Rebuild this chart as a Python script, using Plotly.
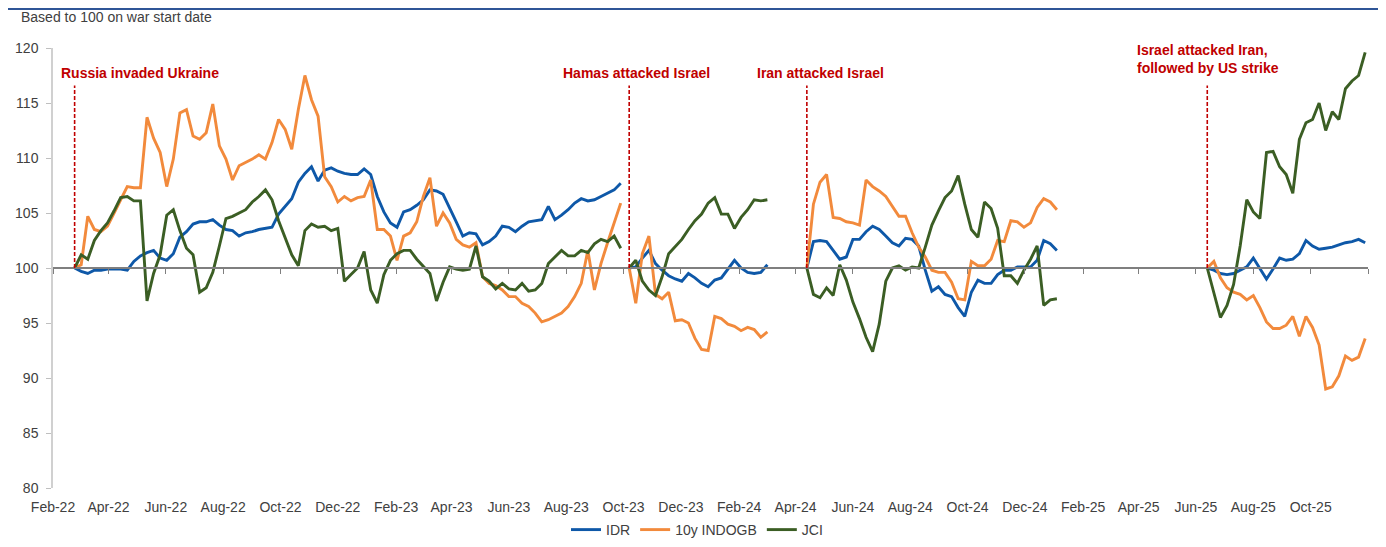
import pandas as pd
import plotly.graph_objects as go

# ---------------- data (weekly readings, index based to 100 at each war start) ----------------
EVENT_DATES = ["2022-02-24", "2023-10-07", "2024-04-13", "2025-06-13"]
EVENT_LABELS = ["Russia invaded Ukraine", "Hamas attacked Israel", "Iran attacked Israel",
                "Israel attacked Iran,<br>followed by US strike"]
SERIES_NAMES = ["IDR", "10y INDOGB", "JCI"]

IDR_1 = [100, 99.7, 99.5, 99.8, 99.8, 99.9, 99.9, 99.9, 99.8, 100.6, 101.1, 101.4, 101.6, 100.9, 100.7,
         101.3, 102.8, 103.3, 104.0, 104.2, 104.2, 104.4, 103.9, 103.5, 103.4, 102.9, 103.2, 103.3, 103.5,
         103.6, 103.7, 104.9, 105.6, 106.3, 107.8, 108.6, 109.2, 107.9, 108.9, 109.1, 108.8,
         108.6, 108.5, 108.5, 109.0, 108.5, 106.5, 105.1, 104.1, 103.7, 105.1, 105.3, 105.7, 106.2, 107.1,
         107.0, 106.7, 105.5, 104.2, 102.9, 103.2, 103.1, 102.1, 102.4, 102.9, 103.8, 103.7, 103.3, 103.8,
         104.2, 104.3, 104.4, 105.6, 104.4, 104.8, 105.3, 105.9, 106.3, 106.1, 106.2, 106.5, 106.8, 107.1,
         107.7]
GB_1 = [100, 100.3, 104.7, 103.5, 103.3, 103.8, 105.0, 106.2, 107.4, 107.3, 107.3, 113.7, 111.8, 110.5,
        107.4, 109.9, 114.1, 114.4, 112.0, 111.7, 112.3, 114.9, 111.1, 109.9, 108.0, 109.3, 109.6, 109.9,
        110.3, 109.9, 111.4, 113.5, 112.6, 110.8, 114.4, 117.5, 115.3, 113.8, 108.3, 107.4, 106.0,
        106.5, 106.1, 106.4, 106.5, 108.0, 103.5, 103.5, 102.9, 100.7, 102.9, 103.2, 104.2, 106.5, 108.2,
        103.8, 105.0, 104.1, 102.6, 102.1, 101.9, 102.3, 99.2, 98.6, 98.4, 98.0, 97.4, 97.4, 96.8, 96.5,
        95.9, 95.1, 95.3, 95.6, 95.9, 96.5, 97.4, 98.6, 101.6, 98.0, 100.4, 102.3, 104.1, 105.9]
JCI_1 = [100, 101.2, 100.8, 102.5, 103.4, 104.1, 105.2, 106.4, 106.5, 106.1, 106.1, 97.0, 99.5, 101.2,
         104.8, 105.3, 103.4, 101.8, 101.2, 97.8, 98.2, 99.6, 102.0, 104.5, 104.7, 105.0, 105.3, 106.0,
         106.5, 107.1, 106.2, 104.3, 102.8, 101.2, 100.2, 103.4, 104.0, 103.7, 103.8, 103.4, 103.6,
         98.8, 99.4, 100.0, 101.5, 98.0, 96.8, 99.4, 100.7, 101.3, 101.6, 101.6, 100.8, 100.1, 99.5, 97.0,
         98.7, 100.1, 99.9, 99.8, 99.9, 102.0, 99.2, 98.8, 98.1, 98.6, 98.1, 98.0, 98.6, 97.9, 98.0, 98.6,
         100.4, 101.0, 101.6, 101.1, 101.1, 101.6, 101.4, 102.2, 102.6, 102.4, 102.9, 101.8]

IDR_2 = [100, 100.1, 100.9, 101.6, 100.4, 99.8, 99.3, 99.0, 98.8, 99.5, 99.1, 98.6, 98.3, 98.9, 99.1,
         99.9, 100.7, 100.0, 99.6, 99.5, 99.6, 100.3]
GB_2 = [100, 96.8, 101.3, 102.9, 97.6, 97.2, 97.8, 95.2, 95.3, 95.0, 93.6, 92.6, 92.5, 95.6, 95.4, 94.9,
        94.7, 94.3, 94.6, 94.4, 93.7, 94.2]
JCI_2 = [100, 100.7, 98.8, 98.0, 97.5, 99.2, 101.3, 102.0, 102.6, 103.5, 104.3, 104.9, 105.9, 106.4,
         104.9, 104.9, 103.6, 104.6, 105.3, 106.2, 106.1, 106.2]

IDR_3 = [100, 102.4, 102.5, 102.4, 101.6, 100.8, 101.0, 102.6, 102.6, 103.3, 103.8, 103.5, 102.9, 102.3,
         102.0, 102.7, 102.6, 102.0, 99.8, 97.9, 98.3, 97.6, 97.4, 96.4, 95.6, 97.8, 98.9, 98.6, 98.6,
         99.4, 99.8, 99.8, 100.1, 100.1, 100.1, 100.7, 102.5, 102.2, 101.6]
GB_3 = [100, 105.8, 107.8, 108.5, 104.6, 104.5, 104.2, 104.1, 103.9, 108.0, 107.4, 107.0, 106.5, 105.6,
        104.7, 104.7, 103.2, 101.9, 101.0, 99.8, 99.6, 99.6, 98.7, 97.2, 97.1, 100.6, 100.2, 100.2, 100.8,
        102.5, 102.4, 104.3, 104.2, 103.7, 104.1, 105.5, 106.3, 106.0, 105.3]
JCI_3 = [100, 97.6, 97.3, 98.2, 97.5, 100.3, 98.9, 96.9, 95.4, 93.7, 92.4, 94.9, 98.8, 100.0, 100.2,
         99.8, 100.1, 100.0, 101.9, 103.9, 105.2, 106.4, 107.0, 108.4, 105.8, 103.5, 102.8, 106.0, 105.4,
         103.6, 99.3, 99.3, 98.6, 99.8, 100.8, 102.0, 96.6, 97.1, 97.2]

IDR_4 = [100, 99.8, 99.5, 99.4, 99.5, 99.8, 100.1, 100.9, 99.9, 99.0, 99.9, 100.9, 100.7, 100.8, 101.3,
         102.5, 102.0, 101.7, 101.8, 101.9, 102.1, 102.3, 102.4, 102.6, 102.3]
GB_4 = [100, 100.6, 99.1, 98.2, 97.8, 97.6, 97.1, 97.5, 96.4, 95.1, 94.5, 94.5, 94.8, 95.6, 93.8, 95.6,
        94.6, 93.0, 89.0, 89.2, 90.2, 92.0, 91.6, 91.9, 93.6]
JCI_4 = [100, 97.7, 95.5, 96.6, 98.5, 102.0, 106.2, 105.1, 104.5, 110.5, 110.6, 109.2, 108.5, 106.8,
         111.7, 113.2, 113.5, 115.0, 112.5, 114.2, 113.5, 116.3, 117.0, 117.5, 119.6]

# ---------------- styling ----------------
COLORS = ["#0E58A8", "#F28A3C", "#3B5E24"]
RED = "#C00000"
FONT = "Liberation Sans, Arial, sans-serif"
TXT = "#404040"

PAGE_OFF = 8                      # default page body margin
W, H = 1386 - 2 * PAGE_OFF, 547 - 2 * PAGE_OFF
L, R, T, B = 45, 10, 40, 51
PW, PH = W - L - R, H - T - B
def px(x):                        # page pixel -> paper
    return (x - PAGE_OFF - L) / PW
def py(y):
    return (H - B - (y - PAGE_OFF)) / PH

series_segments = [
    [IDR_1, IDR_2, IDR_3, IDR_4],
    [GB_1, GB_2, GB_3, GB_4],
    [JCI_1, JCI_2, JCI_3, JCI_4],
]

fig = go.Figure()
for name, color, segs in zip(SERIES_NAMES, COLORS, series_segments):
    xs, ys = [], []
    for start, vals in zip(EVENT_DATES, segs):
        dates = pd.date_range(start, periods=len(vals), freq="7D")
        xs += list(dates) + [None]
        ys += list(vals) + [None]
    fig.add_trace(go.Scatter(x=xs, y=ys, mode="lines", name=name,
                             line=dict(color=color, width=2.9), connectgaps=False))

XR = ["2022-02-01", "2025-12-01"]
# invisible trace so the label axis is drawn
fig.add_trace(go.Scatter(x=XR, y=[100, 100], xaxis="x2", mode="lines",
                         line=dict(width=0), showlegend=False, hoverinfo="skip"))

# event dashed lines
for d in EVENT_DATES:
    fig.add_shape(type="line", xref="x", yref="y", x0=d, x1=d, y0=100, y1=116.6,
                  line=dict(color=RED, width=1.6, dash="4px,2px"))

# event labels
ann_pos = [(59, 73), (561, 73), (755, 73), (1135, 59)]
for (ax, ay), txt in zip(ann_pos, EVENT_LABELS):
    fig.add_annotation(x=px(ax), y=py(ay), xref="paper", yref="paper", text="<b>" + txt + "</b>",
                       showarrow=False, xanchor="left", yanchor="middle", align="left",
                       font=dict(family=FONT, size=14, color=RED))

fig.add_annotation(x=px(19), y=py(17), xref="paper", yref="paper", text="Based to 100 on war start date",
                   showarrow=False, xanchor="left", yanchor="middle",
                   font=dict(family=FONT, size=14, color=TXT))

# top border
fig.add_shape(type="line", xref="paper", yref="paper", x0=px(PAGE_OFF), x1=px(1386 - PAGE_OFF),
              y0=py(PAGE_OFF + 1), y1=py(PAGE_OFF + 1), line=dict(color="#2F5597", width=2))

fig.update_layout(
    width=W, height=H,
    margin=dict(l=L, r=R, t=T, b=B, autoexpand=False),
    paper_bgcolor="white", plot_bgcolor="white",
    font=dict(family=FONT, size=14, color=TXT),
    showlegend=True,
    legend=dict(orientation="h", x=px(697), xanchor="center", y=py(530), yanchor="middle",
                font=dict(family=FONT, size=14, color=TXT), itemwidth=30, tracegroupgap=0),
    xaxis=dict(type="date", range=XR, anchor="free", position=0.5, showline=True,
               linecolor="#7F7F7F", linewidth=1.5, ticks="outside", ticklen=5, tickcolor="#7F7F7F",
               tickwidth=1, tick0="2022-02-01", dtick="M2", showticklabels=False, showgrid=False,
               zeroline=False),
    xaxis2=dict(type="date", range=XR, overlaying="x", anchor="y", side="bottom", showline=False,
                tick0="2022-02-01", dtick="M2", tickformat="%b-%y", ticks="outside", ticklen=6,
                tickcolor="rgba(0,0,0,0)", showgrid=False, zeroline=False,
                tickfont=dict(family=FONT, size=14, color=TXT)),
    yaxis=dict(range=[80, 120], dtick=5, showline=True, linecolor="#D0D0D0", linewidth=1.5,
               ticks="outside", ticklen=5, tickcolor="#BFBFBF", showgrid=False, zeroline=False,
               ticklabelstandoff=5, tickfont=dict(family=FONT, size=14, color=TXT)),
)

fig.write_html("out.html")
